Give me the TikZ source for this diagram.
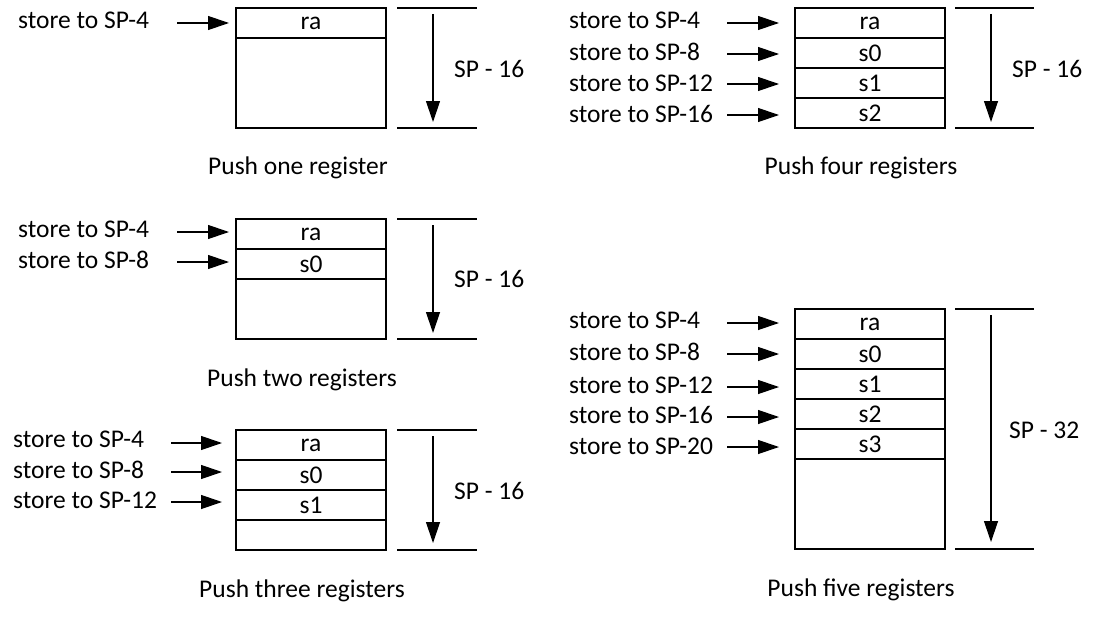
\documentclass[tikz,border=0pt]{standalone}
\usepackage{fontspec}
\setmainfont{Carlito}
\usetikzlibrary{arrows.meta}
\begin{document}
\begin{tikzpicture}[x=1pt,y=-1pt,
  txt/.style={font=\fontsize{25.5}{29}\selectfont, inner sep=0pt},
  cell/.style={draw, line width=1.3pt, minimum width=150pt, minimum height=30pt, inner sep=0pt, font=\fontsize{25.5}{29}\selectfont},
  arr/.style={line width=1.2pt, -{Triangle[length=21pt,width=14pt]}},
  dimline/.style={line width=1.2pt},
]
\useasboundingbox (0,0) rectangle (1105,618);

% ---------- Push one register ----------
\node[cell] (a0) at (311,23) {ra};
\node[cell, minimum height=90pt] (a1) at (311,83) {};
\node[txt, anchor=west] (al0) at (18,20) {store to SP-4};
\coordinate (as0) at (177,23); \coordinate (ae0) at (229,23);
\draw[arr] (as0) -- (ae0);
\coordinate (at1) at (397,8); \coordinate (at2) at (477,8);
\coordinate (ab1) at (397,128); \coordinate (ab2) at (477,128);
\draw[dimline] (at1) -- (at2);
\draw[dimline] (ab1) -- (ab2);
\coordinate (av1) at (433,14); \coordinate (av2) at (433,122);
\draw[arr] (av1) -- (av2);
\node[txt, anchor=west] (asp) at (454,69) {SP - 16};
\node[txt] (acap) at (298,168) {Push one register};

% ---------- Push four registers ----------
\node[cell] (b0) at (870,23) {ra};
\node[cell] (b1) at (870,53) {s0};
\node[cell] (b2) at (870,83) {s1};
\node[cell] (b3) at (870,113) {s2};
\node[txt, anchor=west] (bl0) at (569,20) {store to SP-4};
\node[txt, anchor=west] (bl1) at (569,52) {store to SP-8};
\node[txt, anchor=west] (bl2) at (569,83) {store to SP-12};
\node[txt, anchor=west] (bl3) at (569,114) {store to SP-16};
\coordinate (bs0) at (727,23);  \coordinate (be0) at (779,23);
\coordinate (bs1) at (727,54);  \coordinate (be1) at (779,54);
\coordinate (bs2) at (727,84);  \coordinate (be2) at (779,84);
\coordinate (bs3) at (727,115); \coordinate (be3) at (779,115);
\draw[arr] (bs0) -- (be0);
\draw[arr] (bs1) -- (be1);
\draw[arr] (bs2) -- (be2);
\draw[arr] (bs3) -- (be3);
\coordinate (bt1) at (955,8); \coordinate (bt2) at (1034,8);
\coordinate (bb1) at (955,128); \coordinate (bb2) at (1034,128);
\draw[dimline] (bt1) -- (bt2);
\draw[dimline] (bb1) -- (bb2);
\coordinate (bv1) at (991,14); \coordinate (bv2) at (991,122);
\draw[arr] (bv1) -- (bv2);
\node[txt, anchor=west] (bsp) at (1012,69) {SP - 16};
\node[txt] (bcap) at (861,168) {Push four registers};

% ---------- Push two registers ----------
\node[cell] (c0) at (311,234) {ra};
\node[cell] (c1) at (311,264) {s0};
\node[cell, minimum height=60pt] (c2) at (311,309) {};
\node[txt, anchor=west] (cl0) at (18,229) {store to SP-4};
\node[txt, anchor=west] (cl1) at (18,260) {store to SP-8};
\coordinate (cs0) at (177,232); \coordinate (ce0) at (229,232);
\coordinate (cs1) at (177,262); \coordinate (ce1) at (229,262);
\draw[arr] (cs0) -- (ce0);
\draw[arr] (cs1) -- (ce1);
\coordinate (ct1) at (397,219); \coordinate (ct2) at (477,219);
\coordinate (cb1) at (397,339); \coordinate (cb2) at (477,339);
\draw[dimline] (ct1) -- (ct2);
\draw[dimline] (cb1) -- (cb2);
\coordinate (cv1) at (433,225); \coordinate (cv2) at (433,333);
\draw[arr] (cv1) -- (cv2);
\node[txt, anchor=west] (csp) at (454,279) {SP - 16};
\node[txt] (ccap) at (302,380) {Push two registers};

% ---------- Push three registers ----------
\node[cell] (d0) at (311,445) {ra};
\node[cell] (d1) at (311,475) {s0};
\node[cell] (d2) at (311,505) {s1};
\node[cell] (d3) at (311,535) {};
\node[txt, anchor=west] (dl0) at (13,439) {store to SP-4};
\node[txt, anchor=west] (dl1) at (13,470) {store to SP-8};
\node[txt, anchor=west] (dl2) at (13,500) {store to SP-12};
\coordinate (ds0) at (171,443); \coordinate (de0) at (222,443);
\coordinate (ds1) at (171,472); \coordinate (de1) at (222,472);
\coordinate (ds2) at (171,502); \coordinate (de2) at (222,502);
\draw[arr] (ds0) -- (de0);
\draw[arr] (ds1) -- (de1);
\draw[arr] (ds2) -- (de2);
\coordinate (dt1) at (397,430); \coordinate (dt2) at (477,430);
\coordinate (db1) at (397,550); \coordinate (db2) at (477,550);
\draw[dimline] (dt1) -- (dt2);
\draw[dimline] (db1) -- (db2);
\coordinate (dv1) at (433,436); \coordinate (dv2) at (433,543);
\draw[arr] (dv1) -- (dv2);
\node[txt, anchor=west] (dsp) at (454,491) {SP - 16};
\node[txt] (dcap) at (302,591) {Push three registers};

% ---------- Push five registers ----------
\node[cell] (e0) at (870,324) {ra};
\node[cell] (e1) at (870,354) {s0};
\node[cell] (e2) at (870,384) {s1};
\node[cell] (e3) at (870,414) {s2};
\node[cell] (e4) at (870,444) {s3};
\node[cell, minimum height=90pt] (e5) at (870,504) {};
\node[txt, anchor=west] (el0) at (569,320) {store to SP-4};
\node[txt, anchor=west] (el1) at (569,352) {store to SP-8};
\node[txt, anchor=west] (el2) at (569,385) {store to SP-12};
\node[txt, anchor=west] (el3) at (569,415) {store to SP-16};
\node[txt, anchor=west] (el4) at (569,446) {store to SP-20};
\coordinate (es0) at (727,323); \coordinate (ee0) at (779,323);
\coordinate (es1) at (727,354); \coordinate (ee1) at (779,354);
\coordinate (es2) at (727,387); \coordinate (ee2) at (779,387);
\coordinate (es3) at (727,417); \coordinate (ee3) at (779,417);
\coordinate (es4) at (727,447); \coordinate (ee4) at (779,447);
\draw[arr] (es0) -- (ee0);
\draw[arr] (es1) -- (ee1);
\draw[arr] (es2) -- (ee2);
\draw[arr] (es3) -- (ee3);
\draw[arr] (es4) -- (ee4);
\coordinate (et1) at (955,309); \coordinate (et2) at (1034,309);
\coordinate (eb1) at (955,549); \coordinate (eb2) at (1034,549);
\draw[dimline] (et1) -- (et2);
\draw[dimline] (eb1) -- (eb2);
\coordinate (ev1) at (991,315); \coordinate (ev2) at (991,542);
\draw[arr] (ev1) -- (ev2);
\node[txt, anchor=west] (esp) at (1009,430) {SP - 32};
\node[txt] (ecap) at (861,590) {Push five registers};
\end{tikzpicture}
\end{document}
